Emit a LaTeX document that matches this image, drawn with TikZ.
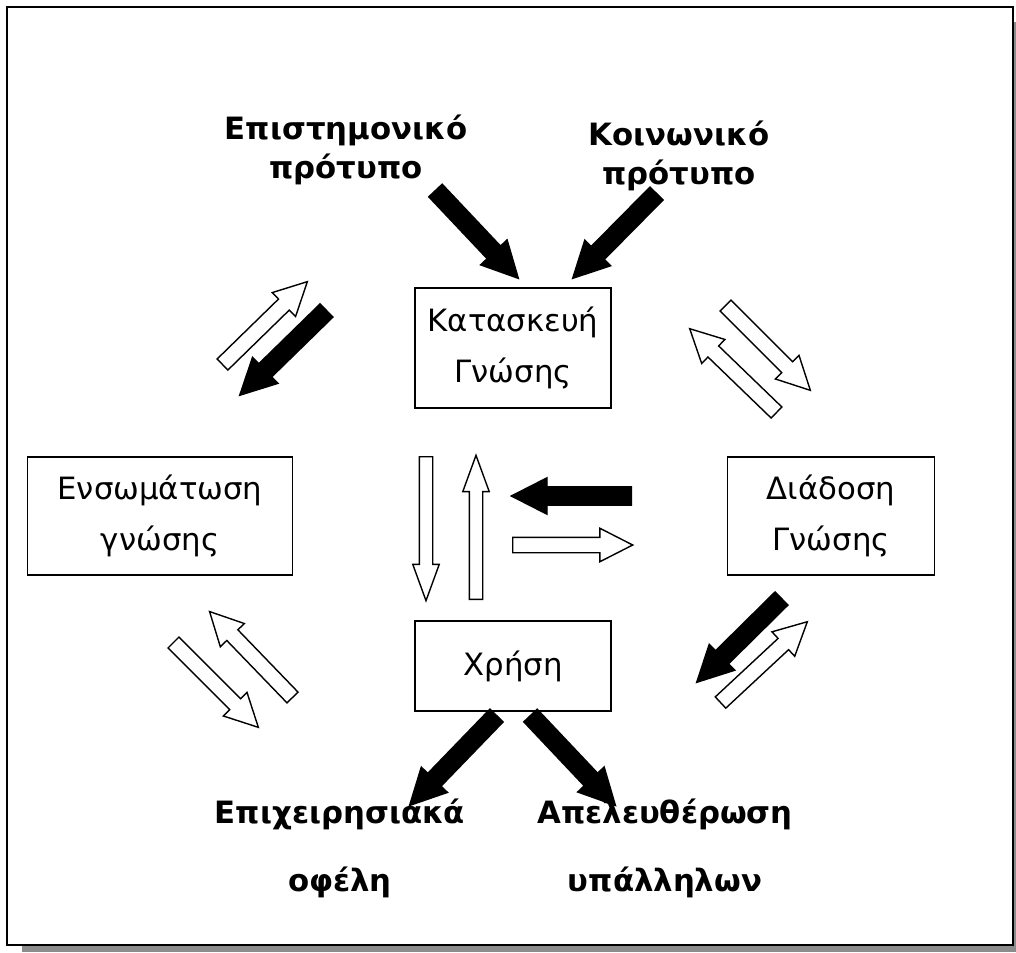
\documentclass[tikz,border=0pt]{standalone}
\usepackage{fontspec}
\setmainfont{DejaVu Sans}
\usetikzlibrary{calc,shapes.arrows}

\tikzset{
  box/.style={draw, line width=1pt, align=center, font=\fontsize{17.5}{29}\selectfont},
  label/.style={align=center, font=\fontsize{17.5}{22}\selectfont\bfseries},
  arr/.style={single arrow, draw=black, line width=0.8pt, inner xsep=0pt},
  blackarr/.style={arr, fill=black, inner ysep=0.17cm, single arrow head extend=0.18cm, single arrow tip angle=54},
  whitearr/.style={arr, fill=white, inner ysep=0.14cm, single arrow head extend=0.18cm, single arrow tip angle=54},
  thinarr/.style={arr, fill=white, inner ysep=0.12cm, single arrow head extend=0.13cm, single arrow tip angle=40}
}

% block arrow from one coordinate to another
\newcommand{\blockarrow}[4]{%
  \path let \p1=(#3), \p2=(#4), \n1={atan2(\y2-\y1,\x2-\x1)}, \n2={veclen(\x2-\x1,\y2-\y1)}
    in node[#1, rotate=\n1, minimum height=\n2, anchor=tail] (#2) at (\p1) {};
}

\begin{document}
\begin{tikzpicture}[x=0.02cm, y=-0.02cm]
  \useasboundingbox (0,0) rectangle (1016,952);
  % frame with shadow
  \fill[gray!90] (22,22) rectangle (1016,952);
  \draw[line width=1.2pt, fill=white] (7,7) rectangle (1013,945);

  % boxes
  \node[box, minimum width=3.92cm, minimum height=2.4cm]  (kat)   at (513,348) {Κατασκευή\\Γνώσης};
  \node[box, minimum width=5.3cm,  minimum height=2.36cm] (ens)   at (160,516) {Ενσωμάτωση\\γνώσης};
  \node[box, minimum width=4.14cm, minimum height=2.36cm] (diad)  at (831,516) {Διάδοση\\Γνώσης};
  \node[box, minimum width=3.92cm, minimum height=1.8cm]  (xrisi) at (513,666) {Χρήση};

  % outer labels
  \node[label] (epist) at (346,150) {Επιστημονικό\\πρότυπο};
  \node[label] (koin)  at (679,156) {Κοινωνικό\\πρότυπο};
  \node[label] (ofel)  at (340,848) {Επιχειρησιακά\\[0.95em]οφέλη};
  \node[label] (apel)  at (665,848) {Απελευθέρωση\\[0.95em]υπάλληλων};

  % arrow ends
  \coordinate (e1) at (435,190);  \coordinate (e2) at (518,278);
  \coordinate (k1) at (657,193);  \coordinate (k2) at (573,278);
  \coordinate (l1) at (222,365);  \coordinate (l2) at (307,282);
  \coordinate (l3) at (327,310);  \coordinate (l4) at (240,395);
  \coordinate (r1) at (777,413);  \coordinate (r2) at (690,329);
  \coordinate (r3) at (725,305);  \coordinate (r4) at (810,390);
  \coordinate (c1) at (426,456);  \coordinate (c2) at (426,600);
  \coordinate (c3) at (476,600);  \coordinate (c4) at (476,456);
  \coordinate (c5) at (632,496);  \coordinate (c6) at (512,496);
  \coordinate (c7) at (512,545);  \coordinate (c8) at (632,545);
  \coordinate (m1) at (173,642);  \coordinate (m2) at (258,727);
  \coordinate (m3) at (293,698);  \coordinate (m4) at (210,612);
  \coordinate (d1) at (782,598);  \coordinate (d2) at (697,682);
  \coordinate (d3) at (720,703);  \coordinate (d4) at (807,622);
  \coordinate (x1) at (497,715);  \coordinate (x2) at (410,805);
  \coordinate (x3) at (530,715);  \coordinate (x4) at (615,805);

  \blockarrow{blackarr}{ae}{e1}{e2}
  \blockarrow{blackarr}{ak}{k1}{k2}
  \blockarrow{whitearr}{al1}{l1}{l2}
  \blockarrow{blackarr}{al2}{l3}{l4}
  \blockarrow{whitearr}{ar1}{r1}{r2}
  \blockarrow{whitearr}{ar2}{r3}{r4}
  \blockarrow{thinarr}{ac1}{c1}{c2}
  \blockarrow{thinarr}{ac2}{c3}{c4}
  \blockarrow{blackarr}{ac3}{c5}{c6}
  \blockarrow{whitearr}{ac4}{c7}{c8}
  \blockarrow{whitearr}{am1}{m1}{m2}
  \blockarrow{whitearr}{am2}{m3}{m4}
  \blockarrow{blackarr}{ad1}{d1}{d2}
  \blockarrow{whitearr}{ad2}{d3}{d4}
  \blockarrow{blackarr}{ax1}{x1}{x2}
  \blockarrow{blackarr}{ax2}{x3}{x4}
\end{tikzpicture}
\end{document}
